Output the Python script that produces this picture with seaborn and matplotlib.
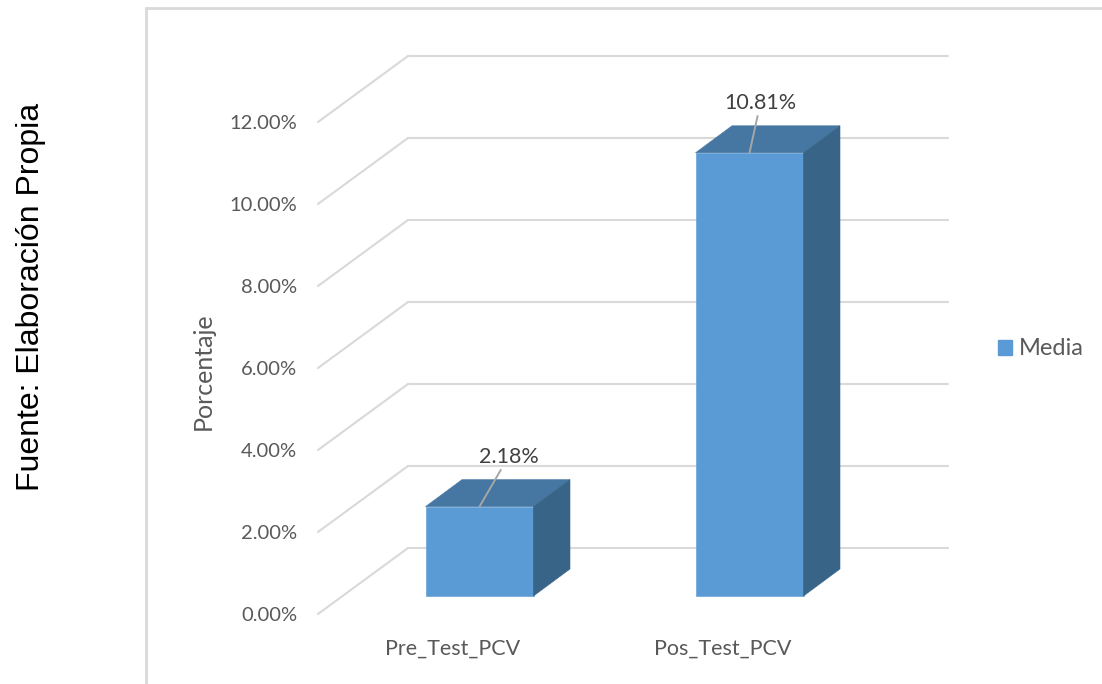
import numpy as np
import pandas as pd
import seaborn as sns
import matplotlib.pyplot as plt
from matplotlib.patches import Polygon, Patch
from matplotlib.lines import Line2D

# ---- data ----
categories = ["Pre_Test_PCV", "Pos_Test_PCV"]
media = [2.18, 10.81]
yticks = [0, 2, 4, 6, 8, 10, 12]
series_name = "Media"
y_title = "Porcentaje"
source_note = "Fuente: Elaboración Propia"

# ---- style ----
FRONT = "#5B9BD5"
TOP = "#4677A3"
SIDE = "#386488"
GRID = "#D9D9D9"
TEXT = "#595959"

W, H = 1102, 684
sns.set_style("white")
plt.rcParams["font.family"] = ["Lato", "DejaVu Sans"]

fig = plt.figure(figsize=(W / 100, H / 100), dpi=100)
ax = fig.add_axes([318 / W, 70 / H, 540 / W, 492 / H])

df = pd.DataFrame({"cat": categories, "val": media})
sns.barplot(data=df, x="cat", y="val", color=FRONT, width=0.4,
            saturation=1, ax=ax, zorder=3)
ax.set_xlim(-0.5, 1.5)
ax.set_ylim(0, 12)

# oblique depth offsets in pixels (x right, y up)
BAR_FRONT = (26.5, 18.0)
BAR_BACK = (63.0, 45.0)
WALL = (90.0, 66.0)


def shift(x, y, off):
    px, py = ax.transData.transform((x, y))
    return ax.transData.inverted().transform((px + off[0], py + off[1]))


# back wall and side-wall gridlines
for t in yticks:
    bx0, by = shift(-0.5, t, WALL)
    bx1, _ = shift(1.5, t, WALL)
    ax.add_line(Line2D([-0.5, bx0], [t, by], color=GRID, lw=1.5,
                       zorder=1, clip_on=False))
    ax.add_line(Line2D([bx0, bx1], [by, by], color=GRID, lw=1.5,
                       zorder=1, clip_on=False))

# 3D bars: move the front faces into the bar plane and add top/side faces
label_offsets = [(29, 50), (11, 50)]
for patch, val, off in zip(ax.patches, media, label_offsets):
    x0, w, h = patch.get_x(), patch.get_width(), patch.get_height()
    nx, ny = shift(x0, 0, BAR_FRONT)
    patch.set_x(nx)
    patch.set_y(ny)
    patch.set_clip_on(False)
    patch.set_edgecolor(FRONT)
    patch.set_linewidth(0.4)
    x1 = x0 + w
    top = [shift(x0, h, BAR_FRONT), shift(x1, h, BAR_FRONT),
           shift(x1, h, BAR_BACK), shift(x0, h, BAR_BACK)]
    side = [shift(x1, 0, BAR_FRONT), shift(x1, 0, BAR_BACK),
            shift(x1, h, BAR_BACK), shift(x1, h, BAR_FRONT)]
    ax.add_patch(Polygon(top, closed=True, facecolor=TOP, edgecolor=TOP,
                         lw=0.4, zorder=3, clip_on=False))
    ax.add_patch(Polygon(side, closed=True, facecolor=SIDE, edgecolor=SIDE,
                         lw=0.4, zorder=3, clip_on=False))
    anchor = shift(x0 + w / 2, h, BAR_FRONT)
    ax.annotate(f"{val:.2f}%", xy=anchor, xytext=off,
                textcoords="offset pixels", ha="center", va="center",
                fontsize=15.5, color="#404040", zorder=5,
                arrowprops=dict(arrowstyle="-", color="#A6A6A6", lw=1.4,
                                shrinkA=0, shrinkB=0))

# axes cosmetics
for s in ax.spines.values():
    s.set_visible(False)
ax.grid(False)
ax.set_yticks(yticks)
ax.set_yticklabels([f"{t:.2f}%" for t in yticks])
ax.tick_params(axis="y", length=0, pad=15, labelsize=14.5, labelcolor=TEXT)
ax.tick_params(axis="x", length=0, pad=18, labelsize=15.5, labelcolor=TEXT)
ax.set_xlabel("")
ax.set_ylabel("")

fig.text(203 / W, 1 - 371 / H, y_title, rotation=90, ha="center",
         va="center", fontsize=18, color=TEXT)
fig.text(31 / W, 1 - 297 / H, source_note, rotation=90, ha="center",
         va="center", fontsize=23, color="black", family="Liberation Sans")

fig.legend(handles=[Patch(facecolor=FRONT, edgecolor=FRONT)],
           labels=[series_name], loc="center left",
           bbox_to_anchor=(998 / W, 1 - 349 / H), frameon=False,
           borderaxespad=0, borderpad=0,
           handlelength=0.6, handleheight=0.6, handletextpad=0.3,
           fontsize=17, labelcolor=TEXT)

# chart-area border
fig.add_artist(Line2D([146 / W, 1.0], [1 - 8 / H, 1 - 8 / H],
                      transform=fig.transFigure, color=GRID, lw=2))
fig.add_artist(Line2D([146 / W, 146 / W], [0, 1 - 8 / H],
                      transform=fig.transFigure, color=GRID, lw=2))

fig.savefig("out.png", dpi=100)
